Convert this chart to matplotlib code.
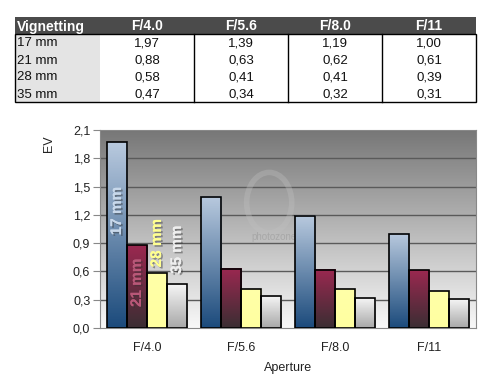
import numpy as np
import matplotlib
matplotlib.use("Agg")
import matplotlib.pyplot as plt
import matplotlib.patheffects as pe
from matplotlib.colors import LinearSegmentedColormap
from matplotlib.patches import Rectangle, Ellipse

plt.rcParams['font.family'] = ['Liberation Sans', 'DejaVu Sans']

# data
apertures = ['F/4.0', 'F/5.6', 'F/8.0', 'F/11']
focal_lengths = ['17 mm', '21 mm', '28 mm', '35 mm']
ev_17 = [1.97, 1.39, 1.19, 1.00]
ev_21 = [0.88, 0.63, 0.62, 0.61]
ev_28 = [0.58, 0.41, 0.41, 0.39]
ev_35 = [0.47, 0.34, 0.32, 0.31]
table_header = ['Vignetting', 'F/4.0', 'F/5.6', 'F/8.0', 'F/11']
table_cells = [['1,97', '1,39', '1,19', '1,00'],
               ['0,88', '0,63', '0,62', '0,61'],
               ['0,58', '0,41', '0,41', '0,39'],
               ['0,47', '0,34', '0,32', '0,31']]
y_ticks = [0.0, 0.3, 0.6, 0.9, 1.2, 1.5, 1.8, 2.1]

series = [ev_17, ev_21, ev_28, ev_35]
# top colour, bottom colour for each series
grads = [('#b8c9de', '#1c4b7c'),
         ('#9a2850', '#3b2e33'),
         ('#ffffa8', '#ffffa0'),
         ('#f7f7f7', '#a8a8a8')]

W, H = 499, 383
fig = plt.figure(figsize=(W / 100, H / 100), dpi=100)

# ---- table ----
tab = fig.add_axes([0, 0, 1, 1])
tab.set_xlim(0, W)
tab.set_ylim(H, 0)
tab.axis('off')
col_x = [15, 100, 194, 288, 382, 476]
row_y = [17, 34, 51, 68, 85, 102]
tab.add_patch(Rectangle((col_x[0], row_y[0]), col_x[-1] - col_x[0], row_y[1] - row_y[0],
                        facecolor='#4b4b4b', edgecolor='none'))
tab.add_patch(Rectangle((col_x[0], row_y[1]), col_x[1] - col_x[0], row_y[-1] - row_y[1],
                        facecolor='#e4e4e4', edgecolor='none'))
tab.add_patch(Rectangle((col_x[0], row_y[1]), col_x[-1] - col_x[0], row_y[-1] - row_y[1],
                        facecolor='none', edgecolor='black', lw=1))
for xx in col_x[2:-1]:
    tab.plot([xx, xx], [row_y[1], row_y[-1]], color='black', lw=1)
for i, h in enumerate(table_header):
    if i == 0:
        tab.text(col_x[0] + 2, (row_y[0] + row_y[1]) / 2 + 1, h, color='white',
                 fontsize=10, fontweight='bold', va='center', ha='left')
    else:
        tab.text((col_x[i] + col_x[i + 1]) / 2, (row_y[0] + row_y[1]) / 2 + 1, h,
                 color='white', fontsize=10, fontweight='bold', va='center', ha='center')
for r, name in enumerate(focal_lengths):
    yc = (row_y[r + 1] + row_y[r + 2]) / 2 + 1
    tab.text(col_x[0] + 2, yc, name, fontsize=9.5, va='center', ha='left', color='#111111')
    for c, v in enumerate(table_cells[r]):
        tab.text((col_x[c + 1] + col_x[c + 2]) / 2, yc, v, fontsize=9.5,
                 va='center', ha='center', color='#111111')

# ---- chart ----
ax = fig.add_axes([100 / W, 1 - 328 / H, 376 / W, 198 / H])
n = len(apertures)
x = np.arange(n)
bw = 0.213
ax.set_xlim(-0.5, n - 0.5)
ax.set_ylim(0, 2.1)

bg = LinearSegmentedColormap.from_list('bg', ['#f8f8f8', '#777777'])
ax.imshow(np.linspace(0, 1, 256).reshape(-1, 1), cmap=bg, aspect='auto',
          extent=[-0.5, n - 0.5, 0, 2.1], origin='lower', zorder=0)
for t in y_ticks[1:-1]:
    ax.axhline(t, color='#5a5a5a', lw=1, zorder=1)

# faint watermark
ax.add_patch(Ellipse((1.3, 1.33), 0.48, 0.64, facecolor='none', edgecolor='#c0c0c0',
                     lw=4, alpha=0.35, zorder=1.5))
ax.text(1.35, 0.965, 'photozone', fontsize=7, color='#9a9a9a', alpha=0.6,
        ha='center', va='center', zorder=1.5)

for s, vals in enumerate(series):
    cm = LinearSegmentedColormap.from_list('g%d' % s, [grads[s][1], grads[s][0]])
    for i, v in enumerate(vals):
        left = x[i] + (s - 2) * bw
        ax.imshow(np.linspace(0, 1, 64).reshape(-1, 1), cmap=cm, aspect='auto',
                  extent=[left, left + bw, 0, v], origin='lower', zorder=2)
        ax.add_patch(Rectangle((left, 0), bw, v, facecolor='none',
                               edgecolor='black', lw=1.2, zorder=3))

# labels inside first group
lbl_pos = [1.24, 0.48, 0.9, 0.83]
lbl_col = ['#c8d8ea', '#b85878', '#ffff90', '#eeeeee']
shadow = [pe.withSimplePatchShadow(offset=(1.2, -1.2), shadow_rgbFace='#333333', alpha=0.45),
          pe.Normal()]
for s, name in enumerate(focal_lengths):
    ax.text(x[0] + (s - 1.5) * bw, lbl_pos[s], name, rotation=90, ha='center', va='center',
            color=lbl_col[s], fontsize=11, fontweight='bold', zorder=5, path_effects=shadow)

ax.set_yticks(y_ticks)
ax.set_yticklabels([('%.1f' % t).replace('.', ',') for t in y_ticks], fontsize=9,
                   color='#222222')
ax.set_xticks(x)
ax.set_xticklabels(apertures, fontsize=9, color='#222222')
ax.tick_params(axis='x', length=0, pad=10)
ax.tick_params(axis='y', length=5, color='#888888', pad=2)
for sp in ax.spines.values():
    sp.set_color('#888888')
ax.set_ylabel('EV', fontsize=9, color='#222222')
ax.yaxis.set_label_coords(-0.12, 0.93)
ax.set_xlabel('Aperture', fontsize=9, color='#222222', labelpad=6)

fig.savefig('out.png', dpi=100)
